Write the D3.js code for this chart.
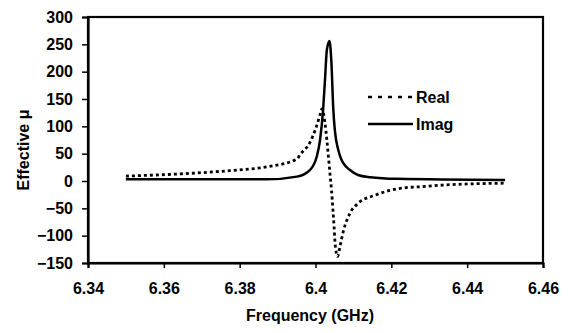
<!DOCTYPE html>
<html>
<head>
<meta charset="utf-8">
<script src="https://cdn.jsdelivr.net/npm/d3@7"></script>
<style>
  body { margin: 0; background: #fff; }
  svg text { font-family: "Liberation Sans", Arial, sans-serif; font-weight: bold; fill: #000; }
</style>
</head>
<body>
<svg width="568" height="333"></svg>
<script>
// data
var realFreq = [6.3500, 6.3643, 6.3774, 6.3872, 6.3951, 6.3959, 6.3985, 6.4001, 6.4012, 6.4017,
                6.4025, 6.4030, 6.4034, 6.4038, 6.4042, 6.4046, 6.4049, 6.4051, 6.4055, 6.4058,
                6.4065, 6.4073, 6.4091, 6.4112, 6.4157, 6.4228, 6.4289, 6.4336, 6.4500];
var realVals = [9, 13, 19, 26, 40, 48, 70, 97, 121, 132,
                106, 75, 45, 15, -15, -53, -84, -108, -132, -138,
                -118, -93, -59, -41, -26, -13, -10, -7.5, -4];

var imagFreq = [6.3500, 6.3872, 6.3951, 6.3985, 6.4003, 6.4012, 6.4020, 6.4025, 6.4030, 6.4037,
                6.4042, 6.4047, 6.4051, 6.4060, 6.4065, 6.4073, 6.4091, 6.4112, 6.4144, 6.4215, 6.4500];
var imagVals = [3, 3, 8, 20, 44, 75, 130, 185, 240, 256,
                216, 130, 93, 57, 45, 33, 20, 11, 7, 4, 2];

var xTicks = [6.34, 6.36, 6.38, 6.40, 6.42, 6.44, 6.46];
var yTicks = [-150, -100, -50, 0, 50, 100, 150, 200, 250, 300];
var seriesNames = ["Real", "Imag"];

var svg = d3.select("svg");

var x = d3.scaleLinear().domain([6.34, 6.46]).range([88, 543]);
var y = d3.scaleLinear().domain([-150, 300]).range([263, 17]);

// frame
svg.append("rect")
  .attr("x", x(6.34)).attr("y", y(300))
  .attr("width", x(6.46) - x(6.34)).attr("height", y(-150) - y(300))
  .attr("fill", "none").attr("stroke", "#000").attr("stroke-width", 2.2);

// axes
var yAxis = svg.append("g")
  .attr("transform", "translate(" + x(6.34) + ",0)")
  .call(d3.axisLeft(y).tickValues(yTicks).tickSize(6).tickPadding(9));
var xAxis = svg.append("g")
  .attr("transform", "translate(0," + y(-150) + ")")
  .call(d3.axisBottom(x).tickValues(xTicks).tickSize(5).tickPadding(15)
    .tickFormat(function(d){ return +d.toFixed(2) }));

[xAxis, yAxis].forEach(function(g){
  g.select(".domain").attr("stroke-width", 2.2);
  g.selectAll(".tick line").attr("stroke-width", 1.5);
  g.selectAll(".tick text").style("font-size", "16px");
});

// lines
var line = d3.line()
  .x(function(d){ return x(d[0]) })
  .y(function(d){ return y(d[1]) })
  .curve(d3.curveMonotoneX);

var realPts = realFreq.map(function(f, i){ return [f, realVals[i]] });
var imagPts = imagFreq.map(function(f, i){ return [f, imagVals[i]] });

svg.append("path")
  .attr("d", line(imagPts))
  .attr("fill", "none").attr("stroke", "#000").attr("stroke-width", 2.5);

svg.append("path")
  .attr("d", line(realPts))
  .attr("fill", "none").attr("stroke", "#000").attr("stroke-width", 2.8)
  .attr("stroke-dasharray", "3,3");

// legend
var legend = svg.append("g");
seriesNames.forEach(function(name, i){
  var ly = 97 + i * 27;
  legend.append("line")
    .attr("x1", 368).attr("x2", 413).attr("y1", ly).attr("y2", ly)
    .attr("stroke", "#000").attr("stroke-width", 2.5)
    .attr("stroke-dasharray", i == 0 ? "4,6" : null);
  legend.append("text")
    .attr("x", 416).attr("y", ly).attr("dy", "0.35em")
    .style("font-size", "16px").text(name);
});

// titles
svg.append("text")
  .attr("x", 310).attr("y", 321)
  .attr("text-anchor", "middle")
  .style("font-size", "16px")
  .text("Frequency (GHz)");

svg.append("text")
  .attr("transform", "translate(29,150) rotate(-90)")
  .attr("text-anchor", "middle")
  .style("font-size", "16px")
  .text("Effective \u03bc");
</script>
</body>
</html>
